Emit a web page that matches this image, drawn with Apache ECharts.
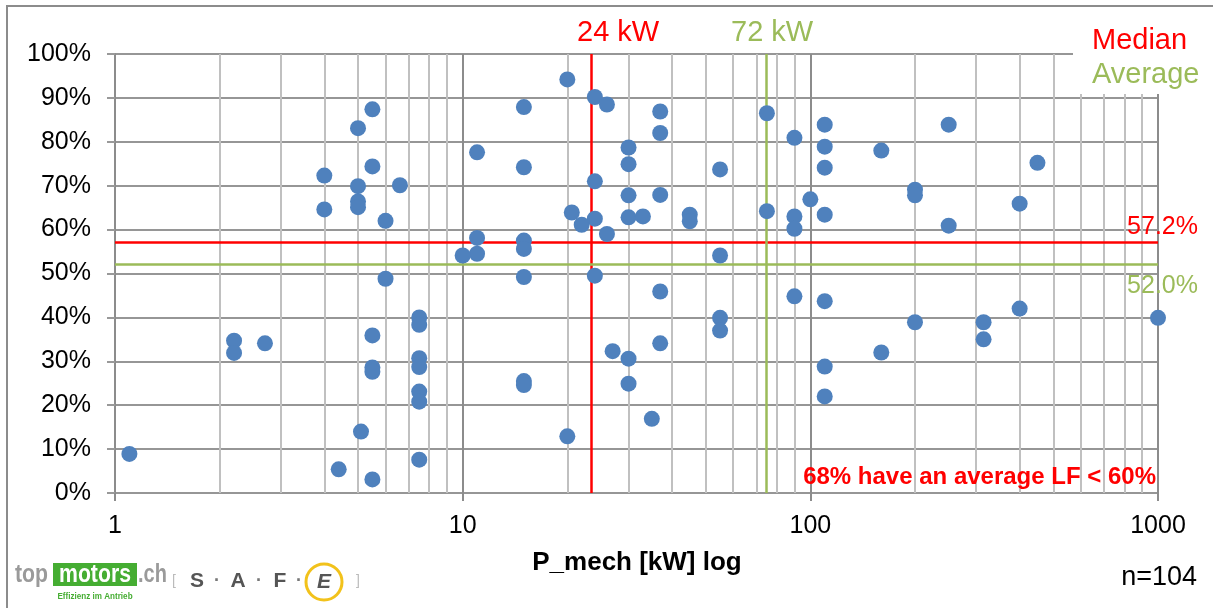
<!DOCTYPE html>
<html>
<head>
<meta charset="utf-8">
<script src="https://cdn.jsdelivr.net/npm/echarts@6/dist/echarts.min.js"></script>
<style>
html, body { margin: 0; padding: 0; background: #fff; }
#ech { width: 1213px; height: 608px; }
</style>
</head>
<body>
<div id="ech"></div>
<script>
// mechanical power [kW] and average load factor [%] per motor
var pKw = [4, 4, 5, 5, 5, 5, 5.5, 5.5, 6, 6.6,
	11, 15, 15, 20, 24, 26, 37, 37, 30, 30,
	24, 30, 37, 20.6, 22, 24, 26, 30, 33, 45,
	45, 55, 75, 75, 90, 90, 90, 11, 11, 10,
	15, 15, 55, 110, 110, 110, 160, 250, 450, 100,
	200, 200, 400, 110, 250, 6, 2.2, 2.2, 2.7, 5.5,
	5.5, 5.5, 5.1, 4.4, 5.5, 1.1, 7.5, 7.5, 7.5, 7.5,
	7.5, 7.5, 7.5, 15, 15, 15, 24, 37, 27, 30,
	30, 37, 35, 20, 55, 55, 90, 110, 110, 110,
	200, 160, 315, 315, 400, 1000];
var loadFactor = [72.3, 64.6, 83.1, 69.9, 66.4, 65.1, 87.4, 74.4, 62.0, 70.1,
	77.6, 87.9, 74.2, 94.2, 90.2, 88.5, 86.9, 82.0, 78.7, 74.9,
	71.0, 67.8, 67.9, 63.9, 61.1, 62.5, 59.0, 62.8, 63.0, 63.4,
	61.9, 73.7, 86.5, 64.2, 80.9, 63.0, 60.2, 58.1, 54.5, 54.1,
	57.5, 55.6, 54.1, 83.9, 78.9, 74.1, 78.0, 83.9, 75.2, 66.9,
	69.1, 67.8, 65.9, 63.4, 60.9, 48.8, 34.7, 31.9, 34.1, 35.9,
	28.6, 27.6, 14.0, 5.4, 3.1, 8.9, 40.0, 38.3, 30.7, 28.7,
	23.1, 20.8, 7.6, 49.2, 25.5, 24.6, 49.5, 45.9, 32.3, 30.6,
	24.9, 34.1, 16.9, 12.9, 39.9, 37.0, 44.8, 43.7, 28.8, 22.0,
	38.9, 32.0, 38.9, 35.0, 42.0, 39.9];

// minor vertical grid lines between the decades
var minorKw = [2, 3, 4, 5, 6, 7, 8, 9, 20, 30, 40, 50, 60, 70, 80, 90,
	200, 300, 400, 500, 600, 700, 800, 900];

// reference lines (where the picture draws them) and their labels
var medianKw = 23.4, averageKw = 74.5;
var medianLf = 57.2, averageLf = 52.0;
var medianKwLabel = '24 kW', averageKwLabel = '72 kW';

var RED = '#ff0000';
var GREEN = '#9bbb59';
var FONT = '"Liberation Sans", Arial, sans-serif';

function show() {
	var points = [];
	for (var i = 0; i < pKw.length; i++) {
		points.push([pKw[i], loadFactor[i]]);
	}
	var minorLines = [];
	for (var j = 0; j < minorKw.length; j++) {
		minorLines.push({ xAxis: minorKw[j] });
	}
	showEchart(points, minorLines);
}

function logoText(x, y, text, font, fill, align, sx) {
	return { type: 'text', z: 60, x: x, y: y, scaleX: sx || 1,
		style: { text: text, font: font, fill: fill, textAlign: align, textVerticalAlign: 'middle' } };
}

function showEchart(points, minorLines) {
	var myChart = echarts.init(document.getElementById('ech'));
	var noLabel = { show: false };
	var option = {
		animation: false,
		backgroundColor: '#fff',
		textStyle: { fontFamily: FONT },
		grid: { left: 115, right: 55, top: 54, bottom: 115 },
		xAxis: {
			type: 'log',
			logBase: 10,
			min: 1,
			max: 1000,
			axisLine: { show: false },
			axisTick: { show: true, length: 8, lineStyle: { color: '#8c8c8c', width: 2 } },
			axisLabel: {
				margin: 21,
				fontSize: 25,
				color: '#000',
				fontFamily: FONT,
				formatter: function (v) { return String(Math.round(v)); }
			},
			splitLine: { show: true, lineStyle: { color: '#8c8c8c', width: 2 } }
		},
		yAxis: {
			type: 'value',
			min: 0,
			max: 100,
			interval: 10,
			axisLine: { show: true, lineStyle: { color: '#8c8c8c', width: 2 } },
			axisTick: { show: true, length: 8, lineStyle: { color: '#999', width: 2 } },
			axisLabel: { margin: 24, fontSize: 25, color: '#000', fontFamily: FONT, formatter: '{value}%' },
			splitLine: { show: true, lineStyle: { color: '#969696', width: 2 } }
		},
		series: [{
			// minor grid
			type: 'scatter',
			data: [],
			z: 1,
			silent: true,
			markLine: {
				silent: true,
				symbol: 'none',
				animation: false,
				label: noLabel,
				lineStyle: { color: '#c0c0c0', width: 2, type: 'solid' },
				data: minorLines
			}
		}, {
			// median / average
			type: 'scatter',
			data: [],
			z: 2,
			silent: true,
			markLine: {
				silent: true,
				symbol: 'none',
				animation: false,
				label: noLabel,
				data: [
					{ xAxis: medianKw, lineStyle: { color: RED, width: 2.5, type: 'solid' } },
					{ yAxis: medianLf, lineStyle: { color: RED, width: 2.5, type: 'solid' } },
					{ xAxis: averageKw, lineStyle: { color: GREEN, width: 2.5, type: 'solid' } },
					{ yAxis: averageLf, lineStyle: { color: GREEN, width: 2.5, type: 'solid' } }
				]
			}
		}, {
			type: 'scatter',
			z: 5,
			symbolSize: 16,
			itemStyle: { color: '#4f81bd', opacity: 1 },
			data: points
		}],
		graphic: [
			{ type: 'rect', z: 1, silent: true, shape: { x: 7, y: 6, width: 1215, height: 612 },
				style: { fill: 'none', stroke: '#8c8c8c', lineWidth: 2 } },
			{ type: 'rect', z: 50, silent: true, shape: { x: 1073, y: 20, width: 134, height: 74 },
				style: { fill: '#fff' } },
			{ type: 'text', z: 60, x: 577, y: 33, style: { text: medianKwLabel, font: '29px ' + FONT, fill: RED, textAlign: 'left', textVerticalAlign: 'middle' } },
			{ type: 'text', z: 60, x: 731, y: 33, style: { text: averageKwLabel, font: '29px ' + FONT, fill: GREEN, textAlign: 'left', textVerticalAlign: 'middle' } },
			{ type: 'text', z: 60, x: 1092, y: 41, style: { text: 'Median', font: '29px ' + FONT, fill: RED, textAlign: 'left', textVerticalAlign: 'middle' } },
			{ type: 'text', z: 60, x: 1092, y: 75, style: { text: 'Average', font: '29px ' + FONT, fill: GREEN, textAlign: 'left', textVerticalAlign: 'middle' } },
			{ type: 'text', z: 60, x: 1198, y: 227, style: { text: medianLf.toFixed(1) + '%', font: '25px ' + FONT, fill: RED, textAlign: 'right', textVerticalAlign: 'middle' } },
			{ type: 'text', z: 60, x: 1198, y: 286, style: { text: averageLf.toFixed(1) + '%', font: '25px ' + FONT, fill: GREEN, textAlign: 'right', textVerticalAlign: 'middle' } },
			{ type: 'text', z: 60, x: 1156, y: 477, style: { text: '68% have an average LF < 60%', font: 'bold 24px ' + FONT, fill: RED, textAlign: 'right', textVerticalAlign: 'middle' } },
			{ type: 'text', z: 60, x: 637, y: 563, style: { text: 'P_mech [kW] log', font: 'bold 26px ' + FONT, fill: '#000', textAlign: 'center', textVerticalAlign: 'middle' } },
			{ type: 'text', z: 60, x: 1197, y: 578, style: { text: 'n=104', font: '27px ' + FONT, fill: '#000', textAlign: 'right', textVerticalAlign: 'middle' } },
			// logos
			logoText(15, 575, 'top', 'bold 25px ' + FONT, '#9a9a9a', 'left', 0.85),
			{ type: 'rect', z: 59, shape: { x: 53, y: 563, width: 84, height: 23 }, style: { fill: '#45ad32' } },
			logoText(95, 575, 'motors', 'bold 25px ' + FONT, '#fff', 'center', 0.85),
			logoText(138, 575, '.ch', 'bold 25px ' + FONT, '#9a9a9a', 'left', 0.8),
			logoText(95, 597, 'Effizienz im Antrieb', 'bold 9px ' + FONT, '#45ad32', 'center', 0.9),
			logoText(172, 581, '[', '14px ' + FONT, '#bbb', 'left'),
			logoText(197, 581, 'S', 'bold 21px ' + FONT, '#555', 'center'),
			logoText(217, 581, '·', 'bold 18px ' + FONT, '#777', 'center'),
			logoText(238, 581, 'A', 'bold 21px ' + FONT, '#555', 'center'),
			logoText(259, 581, '·', 'bold 18px ' + FONT, '#777', 'center'),
			logoText(280, 581, 'F', 'bold 21px ' + FONT, '#555', 'center'),
			logoText(299, 581, '·', 'bold 18px ' + FONT, '#777', 'center'),
			{ type: 'circle', z: 60, shape: { cx: 324, cy: 582, r: 18 }, style: { fill: '#fff', stroke: '#f2c21b', lineWidth: 3 } },
			{ type: 'text', z: 61, x: 324, y: 582, style: { text: 'E', font: 'italic bold 21px ' + FONT, fill: '#555', textAlign: 'center', textVerticalAlign: 'middle' } },
			logoText(356, 581, ']', '14px ' + FONT, '#bbb', 'left')
		]
	};
	myChart.setOption(option);
}

show();
</script>
</body>
</html>
